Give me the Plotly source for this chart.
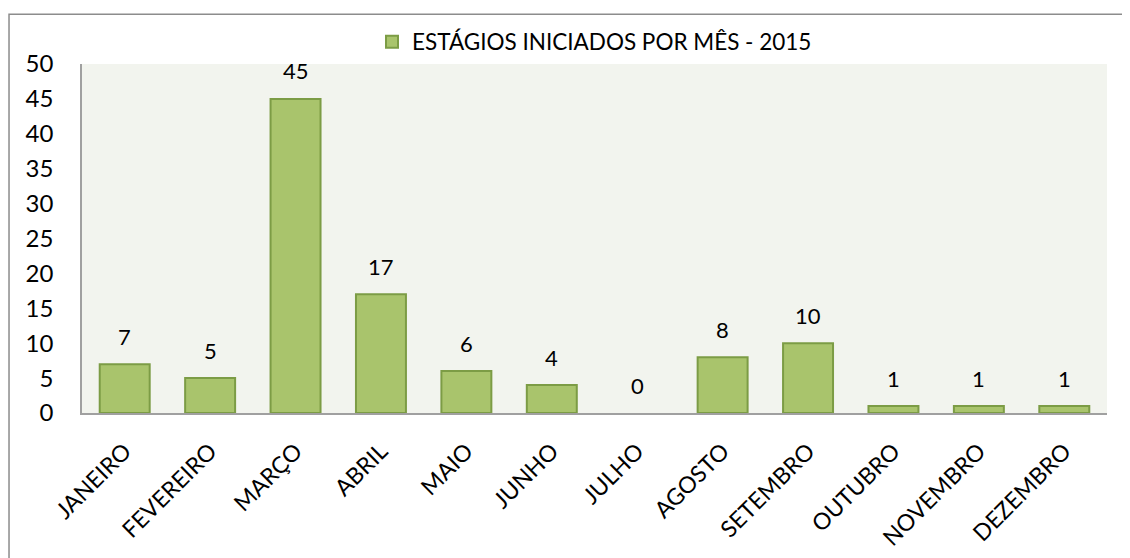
import plotly.graph_objects as go

months = ["JANEIRO", "FEVEREIRO", "MARÇO", "ABRIL", "MAIO", "JUNHO",
          "JULHO", "AGOSTO", "SETEMBRO", "OUTUBRO", "NOVEMBRO", "DEZEMBRO"]
values = [7, 5, 45, 17, 6, 4, 0, 8, 10, 1, 1, 1]
series_name = "ESTÁGIOS INICIADOS POR MÊS - 2015"
y_ticks = [0, 5, 10, 15, 20, 25, 30, 35, 40, 45, 50]

FONT = "Lato"

fig = go.Figure()
fig.add_trace(go.Bar(
    x=months, y=values, name=series_name,
    marker=dict(color="#A9C46C",
                line=dict(color="#7C9C45", width=[2 if v > 0 else 0 for v in values])),
    width=0.585, showlegend=True,
))

for m, v in zip(months, values):
    fig.add_annotation(x=m, y=v, text=str(v), showarrow=False,
                       yshift=28, font=dict(family=FONT, size=22, color="#000"))

fig.add_shape(type="rect", xref="paper", yref="paper",
              x0=-0.0712, x1=1.2, y0=-0.42, y1=1.1425,
              line=dict(color="#8C8C8C", width=1.5), fillcolor="rgba(0,0,0,0)",
              layer="below")

fig.update_layout(
    width=1130, height=558,
    margin=dict(l=74, r=31, t=54, b=153),
    paper_bgcolor="white", plot_bgcolor="#F2F4EE",
    font=dict(family=FONT, size=20, color="#000"),
    legend=dict(orientation="h", x=0.5, xanchor="center", y=1.063, yanchor="middle",
                font=dict(family=FONT, size=22.5), bgcolor="rgba(0,0,0,0)",
                itemwidth=30),
    xaxis=dict(showgrid=False, tickangle=-45, tickfont=dict(size=23),
               showline=True, linecolor="#A0A0A0", linewidth=1.5, ticks="",
               ticklabelstandoff=14, automargin=False),
    yaxis=dict(range=[0, 50], tickvals=y_ticks, showgrid=False, zeroline=False,
               showline=True, linecolor="#A0A0A0", linewidth=1.5, ticks="",
               ticklabelstandoff=22, tickfont=dict(size=24), automargin=False),
)

fig.write_html("out.html")
